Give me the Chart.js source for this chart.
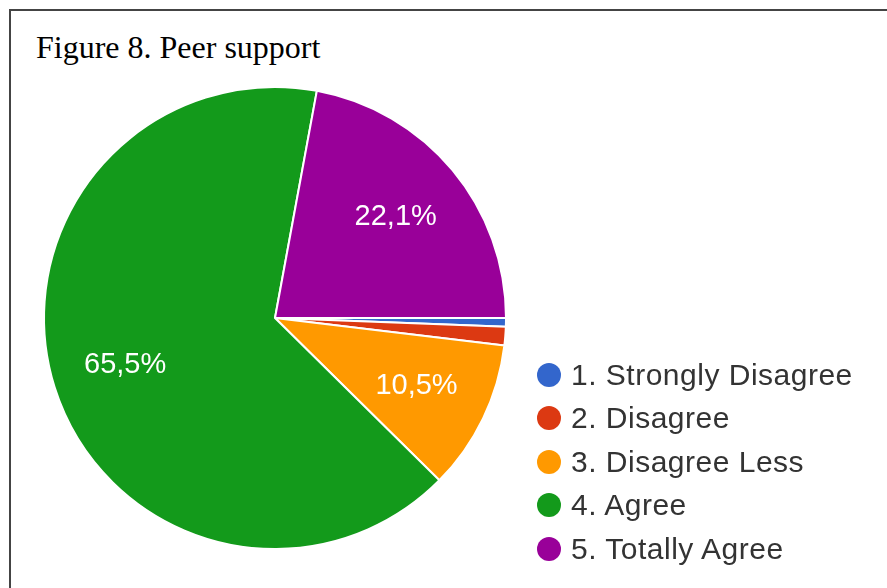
<!DOCTYPE html>
<html>
<head>
<meta charset="utf-8">
<script src="https://cdn.jsdelivr.net/npm/chart.js@4/dist/chart.umd.min.js"></script>
<style>
  html, body { margin: 0; padding: 0; background: #fff; }
  body { width: 887px; height: 588px; position: relative; overflow: hidden; }
  #frame { position: absolute; left: 9px; top: 9px; width: 900px; height: 600px;
           border-top: 2px solid #444; border-left: 2px solid #444; }
  #title { position: absolute; left: 36px; top: 31px; font: 32px "Liberation Serif", "Times New Roman", serif;
           line-height: 32px; color: #000; white-space: nowrap; }
  #pieBox { position: absolute; left: 10px; top: 78px; width: 530px; height: 480px; }
  #legend { position: absolute; left: 537px; top: 353px; margin: 0; padding: 0; list-style: none; }
  #legend li { height: 43.5px; display: flex; align-items: center; white-space: nowrap;
               font: 30px "Liberation Sans", Arial, sans-serif; letter-spacing: 0.5px; color: #333; }
  #legend .dot { width: 24px; height: 24px; border-radius: 50%; margin-right: 10px; flex: none; }
</style>
</head>
<body>
<div id="frame"></div>
<div id="title">Figure 8. Peer support</div>
<div id="pieBox"><canvas id="peerPie"></canvas></div>
<ul id="legend"></ul>
<script>
// Figure 8 - peer support (percent of answers)
var categories = ['1. Strongly Disagree', '2. Disagree', '3. Disagree Less', '4. Agree', '5. Totally Agree'];
var percents = [0.6, 1.3, 10.5, 65.5, 22.1];
var sliceColors = ['#3366cc', '#dc3912', '#ff9900', '#139a1b', '#990099'];

// white percentage text inside the big slices
var sliceLabels = {
  id: 'sliceLabels',
  afterDatasetsDraw: function (chart) {
    var ctx = chart.ctx;
    var meta = chart.getDatasetMeta(0);
    ctx.save();
    ctx.fillStyle = '#ffffff';
    ctx.font = '29px "Liberation Sans", Arial, sans-serif';
    ctx.textAlign = 'center';
    ctx.textBaseline = 'middle';
    meta.data.forEach(function (arc, i) {
      var v = chart.data.datasets[0].data[i];
      if (v < 5) return;
      var p = arc.getProps(['x', 'y', 'startAngle', 'endAngle', 'outerRadius'], true);
      var mid = (p.startAngle + p.endAngle) / 2;
      var r = p.outerRadius * 0.68;
      ctx.fillText(v.toFixed(1).replace('.', ',') + '%', p.x + Math.cos(mid) * r, p.y + Math.sin(mid) * r);
    });
    ctx.restore();
  }
};

var ctx1 = document.getElementById('peerPie').getContext('2d');
var peerPie = new Chart(ctx1, {
  type: 'pie',
  data: {
    labels: categories,
    datasets: [{
      data: percents,
      backgroundColor: sliceColors,
      borderColor: '#ffffff',
      borderWidth: 2
    }]
  },
  options: {
    responsive: true,
    maintainAspectRatio: false,
    animation: false,
    rotation: 90,
    layout: { padding: { top: 8, bottom: 8 } },
    plugins: {
      legend: { display: false },
      tooltip: { enabled: false }
    }
  },
  plugins: [sliceLabels]
});

// legend list built from the same arrays
var ul = document.getElementById('legend');
categories.forEach(function (name, i) {
  var li = document.createElement('li');
  var dot = document.createElement('span');
  dot.className = 'dot';
  dot.style.background = sliceColors[i];
  li.appendChild(dot);
  li.appendChild(document.createTextNode(name));
  ul.appendChild(li);
});
</script>
</body>
</html>
